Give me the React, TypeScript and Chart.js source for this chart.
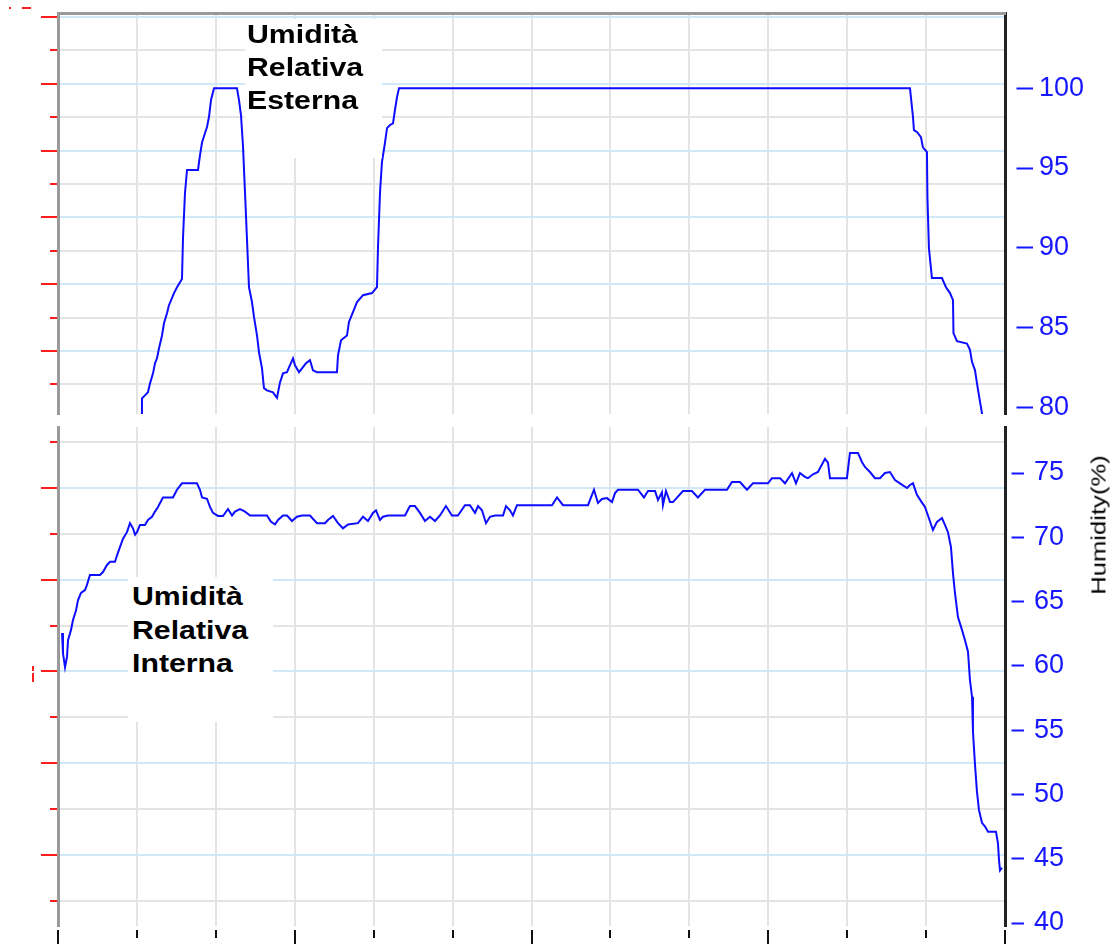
import React, { useEffect, useRef } from 'react';
import { Chart, registerables } from 'chart.js';

Chart.register(...registerables);

// ---- Data (x = grid interval units, 0..12) ----
const extTime = [
  1.058, 1.064, 1.102, 1.14, 1.166, 1.204, 1.229, 1.254, 1.28, 1.318, 1.343, 1.381, 1.406, 1.444, 1.47, 1.508,
  1.571, 1.584, 1.609, 1.635, 1.774, 1.799, 1.825, 1.863, 1.888, 1.913, 1.939, 1.977, 2.268, 2.293, 2.319, 2.344,
  2.37, 2.395, 2.42, 2.458, 2.484, 2.522, 2.547, 2.585, 2.61, 2.648, 2.724, 2.775, 2.813, 2.851, 2.902, 2.927,
  2.978, 3.003, 3.054, 3.092, 3.142, 3.193, 3.231, 3.282, 3.535, 3.548, 3.586, 3.662, 3.687, 3.738, 3.789, 3.865,
  3.979, 4.042, 4.055, 4.08, 4.105, 4.143, 4.169, 4.207, 4.245, 4.27, 4.296, 4.321, 10.796, 10.834, 10.846, 10.884,
  10.935, 10.96, 11.011, 11.017, 11.036, 11.074, 11.201, 11.252, 11.303, 11.341, 11.347, 11.391, 11.518, 11.556,
  11.582, 11.62, 11.645, 11.67, 11.708, 11.733,
];
const extRH = [
  79.0, 80.56, 80.75, 80.94, 81.5, 82.13, 82.76, 83.07, 83.7, 84.5, 85.27, 85.9, 86.4, 86.84, 87.16, 87.53,
  88.04, 90.61, 93.43, 94.88, 94.88, 95.8, 96.6, 97.2, 97.57, 98.2, 99.27, 100, 100, 99.27, 98.3, 96.4,
  93.43, 90.5, 87.53, 86.6, 85.65, 84.5, 83.45, 82.44, 81.2, 81.06, 80.94, 80.6, 81.56, 82.13, 82.2, 82.5,
  83.07, 82.63, 82.2, 82.44, 82.76, 82.95, 82.32, 82.2, 82.2, 83.26, 84.2, 84.5, 85.35, 85.96, 86.6, 87.03,
  87.16, 87.53, 90.03, 93.43, 95.37, 96.57, 97.5, 97.7, 97.8, 98.64, 99.45, 100, 100, 98.2, 97.38, 97.26,
  96.94, 96.3, 96.0, 93.18, 89.98, 88.1, 88.1, 87.53, 87.16, 86.72, 84.65, 84.15, 84.0, 83.6,
  82.85, 82.32, 81.5, 80.75, 79.62, 79.2,
];

const intTime = [
  0.051, 0.063, 0.089, 0.114, 0.127, 0.165, 0.19, 0.228, 0.253, 0.291, 0.342, 0.367, 0.405, 0.532, 0.57, 0.621,
  0.659, 0.722, 0.748, 0.786, 0.824, 0.874, 0.912, 0.95, 0.976, 1.001, 1.039, 1.102, 1.14, 1.191, 1.229, 1.267,
  1.33, 1.457, 1.508, 1.571, 1.761, 1.799, 1.825, 1.888, 1.926, 1.964, 2.027, 2.091, 2.154, 2.205, 2.243, 2.306,
  2.37, 2.433, 2.648, 2.699, 2.75, 2.788, 2.851, 2.902, 2.965, 3.028, 3.092, 3.193, 3.282, 3.383, 3.421, 3.485,
  3.548, 3.611, 3.675, 3.801, 3.865, 3.928, 3.991, 4.029, 4.08, 4.118, 4.181, 4.397, 4.46, 4.523, 4.587, 4.65,
  4.714, 4.777, 4.84, 4.916, 4.992, 5.068, 5.157, 5.22, 5.284, 5.322, 5.373, 5.423, 5.474, 5.537, 5.639, 5.677,
  5.727, 5.765, 5.816, 6.26, 6.323, 6.399, 6.716, 6.754, 6.792, 6.842, 6.893, 6.956, 7.02, 7.058, 7.096, 7.349,
  7.425, 7.476, 7.565, 7.603, 7.653, 7.666, 7.704, 7.755, 7.793, 7.919, 8.033, 8.109, 8.198, 8.477, 8.54, 8.642,
  8.73, 8.806, 8.996, 9.047, 9.149, 9.212, 9.301, 9.351, 9.402, 9.465, 9.503, 9.567, 9.63, 9.719, 9.757, 9.782,
  9.997, 10.035, 10.137, 10.187, 10.226, 10.289, 10.352, 10.416, 10.479, 10.542, 10.606, 10.669, 10.758, 10.796,
  10.834, 10.884, 10.948, 10.986, 11.024, 11.087, 11.138, 11.201, 11.239, 11.277, 11.315, 11.341, 11.366, 11.404,
  11.455, 11.493, 11.531, 11.556, 11.582, 11.594, 11.62, 11.645, 11.67, 11.708, 11.747, 11.785, 11.886, 11.911,
  11.924, 11.937, 11.962,
];
const intRH = [
  62.56, 61.0, 59.9, 60.7, 62.0, 62.8, 63.57, 64.3, 65.1, 65.67, 65.9, 66.3, 67.07, 67.07, 67.3, 67.85,
  68.1, 68.1, 68.6, 69.25, 69.9, 70.4, 71.1, 70.7, 70.2, 70.4, 70.96, 70.96, 71.35, 71.6, 72.0, 72.36,
  73.1, 73.1, 73.7, 74.2, 74.2, 73.7, 73.1, 73.0, 72.36, 71.9, 71.66, 71.66, 72.2, 71.7, 72.0, 72.2,
  72.0, 71.7, 71.7, 71.2, 71.0, 71.35, 71.7, 71.7, 71.27, 71.6, 71.7, 71.7, 71.1, 71.1, 71.35, 71.66,
  71.1, 70.7, 71.0, 71.1, 71.6, 71.27, 71.9, 72.1, 71.35, 71.6, 71.7, 71.7, 72.43, 72.43, 71.9, 71.27,
  71.6, 71.27, 71.7, 72.43, 71.7, 71.7, 72.5, 72.5, 71.9, 72.43, 72.1, 71.1, 71.6, 71.7, 71.7, 72.43,
  72.1, 71.7, 72.5, 72.5, 73.1, 72.5, 72.5, 73.1, 73.7, 72.67, 72.98, 73.05, 72.74, 73.44, 73.7, 73.7,
  73.1, 73.6, 73.6, 72.9, 73.5, 72.5, 73.6, 72.74, 72.74, 73.6, 73.6, 73.1, 73.7, 73.7, 74.3, 74.3,
  73.7, 74.2, 74.2, 74.6, 74.6, 74.2, 75.0, 74.2, 75.0, 74.7, 74.6, 74.9, 75.08, 76.1, 75.8, 74.6,
  74.6, 76.56, 76.56, 75.86, 75.47, 75.08, 74.6, 74.6, 75.0, 75.08, 74.46, 74.2, 73.83, 74.07,
  74.2, 73.3, 72.7, 72.36, 71.7, 70.57, 71.2, 71.5, 70.96, 70.4, 69.25, 67.2, 65.67, 63.8,
  62.8, 62.0, 61.1, 58.9, 57.6, 54.9, 52.3, 50.2, 48.8, 47.8, 47.5, 47.1, 47.1, 46.2,
  44.9, 44.1, 44.3,
];

const extTicks = [80, 85, 90, 95, 100];
const intTicks = [40, 45, 50, 55, 60, 65, 70, 75];
const xSteps = [0, 1, 2, 3, 4, 5, 6, 7, 8, 9, 10, 11, 12];
const extGridRows = [0, 1, 2, 3, 4, 5, 6, 7, 8, 9, 10, 11];
const intGridRows = [0, 1, 2, 3, 4, 5, 6, 7, 8, 9, 10];

const FONT = "'Liberation Sans', Arial, sans-serif";
const BLUE = '#1616ff';
const LINE_BLUE = '#0d0dff';
const GRID_GRAY = '#e4e4e4';
const GRID_BLUE = '#cfe9fa';

type Panel = {
  time: number[];
  rh: number[];
  yMin: number;
  yMax: number;
  yTicks: number[];
  gridMin: number;
  gridMax: number;
  gridRows: number[];
  blueEven: boolean;
  topBorder: boolean;
  padTop: number;
  bottomHeight: number;
  xTickMarks: boolean;
  rTickGap: number;
  rTickLen: number;
  rTickPad: number;
};

const noPad = (s: any) => {
  s.paddingTop = 0;
  s.paddingBottom = 0;
  s.paddingLeft = 0;
  s.paddingRight = 0;
};

function buildConfig(p: Panel): any {
  const isBlue = (c: any) => {
    if (!c || !c.tick) return false;
    const even = c.tick.value % 2 === 0;
    return p.blueEven ? even : !even;
  };
  const scales: any = {
    x: {
      type: 'linear',
      position: 'bottom',
      min: 0,
      max: 12,
      afterBuildTicks: (s: any) => {
        s.ticks = xSteps.map((v) => ({ value: v }));
      },
      afterFit: (s: any) => {
        s.height = p.bottomHeight;
        noPad(s);
      },
      ticks: { display: false },
      border: { display: false },
      grid: {
        color: (c: any) =>
          c.tick && (c.tick.value === 0 || c.tick.value === 12) ? 'rgba(0,0,0,0)' : GRID_GRAY,
        lineWidth: 2,
        drawTicks: p.xTickMarks,
        tickLength: 20,
        tickColor: '#111111',
        tickWidth: 2,
        tickBorderDash: (c: any) =>
          c.tick && c.tick.value % 3 === 0 ? [0, 4, 30, 100] : [0, 4, 8, 100],
      },
    },
    yg: {
      type: 'linear',
      position: 'left',
      reverse: true,
      min: p.gridMin,
      max: p.gridMax,
      afterBuildTicks: (s: any) => {
        s.ticks = p.gridRows.map((v) => ({ value: v }));
      },
      afterFit: (s: any) => {
        s.width = 58;
        noPad(s);
      },
      ticks: { display: false },
      border: { display: true, color: '#9a9a9a', width: 3 },
      grid: {
        color: (c: any) => (isBlue(c) ? GRID_BLUE : GRID_GRAY),
        lineWidth: 2,
        drawTicks: true,
        tickLength: 17,
        tickColor: '#ff1c1c',
        tickWidth: 2,
        tickBorderDash: (c: any) => (isBlue(c) ? [] : [0, 9, 8, 100]),
      },
    },
    y: {
      type: 'linear',
      position: 'right',
      min: p.yMin,
      max: p.yMax,
      afterBuildTicks: (s: any) => {
        s.ticks = p.yTicks.map((v) => ({ value: v }));
      },
      afterFit: (s: any) => {
        s.width = 107;
        noPad(s);
      },
      ticks: {
        color: BLUE,
        font: { family: FONT, size: 27 },
        padding: p.rTickPad,
      },
      border: { display: true, color: '#222222', width: 3 },
      grid: {
        drawOnChartArea: false,
        drawTicks: true,
        tickLength: p.rTickLen,
        tickColor: BLUE,
        tickWidth: 2,
        tickBorderDash: [0, p.rTickGap, 40, 1000],
      },
    },
  };
  if (p.topBorder) {
    scales.xt = {
      type: 'linear',
      position: 'top',
      min: 0,
      max: 12,
      afterFit: (s: any) => {
        s.height = 13;
        noPad(s);
      },
      ticks: { display: false },
      grid: { display: false },
      border: { display: true, color: '#9a9a9a', width: 3 },
    };
  }
  return {
    type: 'line',
    data: {
      datasets: [
        {
          data: p.time.map((t, i) => ({ x: t, y: p.rh[i] })),
          borderColor: LINE_BLUE,
          borderWidth: 2,
          pointRadius: 0,
          tension: 0,
          fill: false,
          xAxisID: 'x',
          yAxisID: 'y',
        },
      ],
    },
    options: {
      animation: false,
      responsive: false,
      devicePixelRatio: 1,
      layout: { padding: { top: p.padTop, left: 0, right: 0, bottom: 0 } },
      plugins: { legend: { display: false }, tooltip: { enabled: false }, title: { display: false } },
      events: [],
      scales,
    },
  };
}

const topPanel: Panel = {
  time: extTime,
  rh: extRH,
  yMin: 79.58,
  yMax: 104.72,
  yTicks: extTicks,
  gridMin: -0.12,
  gridMax: 11.886,
  gridRows: extGridRows,
  blueEven: true,
  topBorder: true,
  padTop: 0,
  bottomHeight: 6,
  xTickMarks: false,
  rTickGap: 9.5,
  rTickLen: 28,
  rTickPad: 6,
};

const bottomPanel: Panel = {
  time: intTime,
  rh: intRH,
  yMin: 39.77,
  yMax: 78.58,
  yTicks: intTicks,
  gridMin: -0.327,
  gridMax: 10.545,
  gridRows: intGridRows,
  blueEven: false,
  topBorder: false,
  padTop: 7,
  bottomHeight: 18,
  xTickMarks: true,
  rTickGap: 4.5,
  rTickLen: 19,
  rTickPad: 10,
};

const labelText: React.CSSProperties = {
  position: 'absolute',
  fontFamily: FONT,
  fontWeight: 'bold',
  fontSize: 25,
  color: '#000',
  whiteSpace: 'nowrap',
  transform: 'scaleX(1.21)',
  transformOrigin: 'left top',
};

export default function App() {
  const topRef = useRef<HTMLCanvasElement | null>(null);
  const botRef = useRef<HTMLCanvasElement | null>(null);

  useEffect(() => {
    const c1 = new Chart(topRef.current as HTMLCanvasElement, buildConfig(topPanel));
    const c2 = new Chart(botRef.current as HTMLCanvasElement, buildConfig(bottomPanel));
    return () => {
      c1.destroy();
      c2.destroy();
    };
  }, []);

  const red = (l: number, t: number, w: number, h: number) => (
    <div style={{ position: 'absolute', left: l, top: t, width: w, height: h, background: '#ff2020' }} />
  );

  return (
    <div
      style={{
        position: 'absolute',
        left: 0,
        top: 0,
        width: 1112,
        height: 944,
        background: '#ffffff',
        overflow: 'hidden',
      }}
    >
      <canvas
        ref={topRef}
        width={1112}
        height={420}
        style={{ position: 'absolute', left: 0, top: 0, width: 1112, height: 420 }}
      />
      <canvas
        ref={botRef}
        width={1112}
        height={524}
        style={{ position: 'absolute', left: 0, top: 420, width: 1112, height: 524 }}
      />
      <div style={{ position: 'absolute', left: 245, top: 19, width: 137, height: 139, background: '#fff' }}>
        <div style={{ ...labelText, left: 2, top: -1, lineHeight: '33px' }}>
          Umidità
          <br />
          Relativa
          <br />
          Esterna
        </div>
      </div>
      <div style={{ position: 'absolute', left: 128, top: 577, width: 145, height: 145, background: '#fff' }}>
        <div style={{ ...labelText, left: 4, top: 3, lineHeight: '33.5px' }}>
          Umidità
          <br />
          Relativa
          <br />
          Interna
        </div>
      </div>
      <div
        style={{
          position: 'absolute',
          left: 1097.7,
          top: 525,
          fontFamily: FONT,
          fontSize: 21,
          lineHeight: '21px',
          color: '#000',
          whiteSpace: 'nowrap',
          transform: 'translate(-50%, -50%) rotate(-90deg) scaleX(1.22)',
        }}
      >
        Humidity(%)
      </div>
      {red(9, 7, 2, 2)}
      {red(22, 7, 9, 2)}
      {red(32, 666, 2, 5)}
      {red(32, 673, 2, 9)}
    </div>
  );
}
